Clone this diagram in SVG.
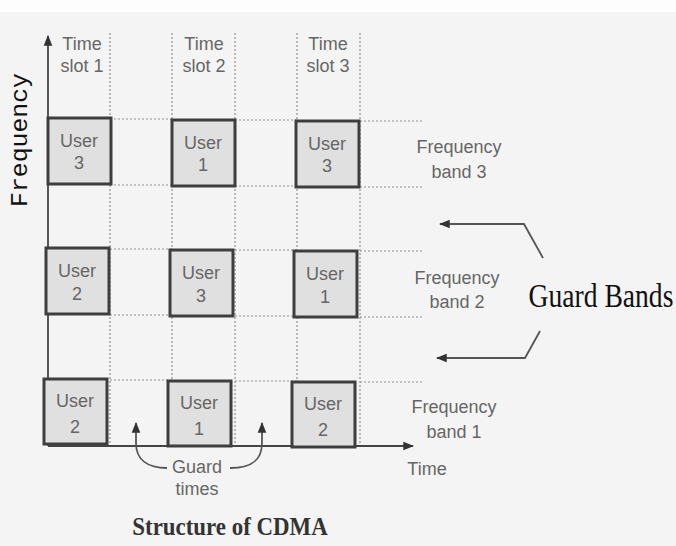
<svg xmlns="http://www.w3.org/2000/svg" width="676" height="546" viewBox="0 0 676 546">
<style>
.t{font-family:"Liberation Sans",Arial,sans-serif;font-size:18px;fill:#666;text-anchor:middle}
.box{fill:#e0e0e0;stroke:#3e3e3e;stroke-width:3}
.dot{stroke:#909090;stroke-width:1.2;stroke-dasharray:2 2;fill:none}
.ax{stroke:#444;stroke-width:1.8;fill:none}
.ln{stroke:#555;stroke-width:1.8;fill:none}
</style>
<defs>
<marker id="ah" viewBox="0 0 10 10" refX="9" refY="5" markerWidth="6" markerHeight="6" orient="auto-start-reverse">
<path d="M0,1 L10,5 L0,9 z" fill="#333"/>
</marker>
</defs>
<rect width="676" height="546" fill="#f4f4f4"/>
<rect width="676" height="12" fill="#fdfdfd"/>

<g id="grid">
<path class="dot" d="M110,33 V446 M172,33 V446 M235,33 V446 M297,33 V446 M360,33 V446"/>
<path class="dot" d="M110,119 H172 M235,120 H297 M360,121 H424 M110,185 H172 M235,186 H297 M360,187 H424 M110,249 H172 M235,250 H297 M360,251 H424 M110,315 H172 M235,316 H297 M360,317 H424 M110,380 H172 M235,381 H297 M360,382 H424"/>
</g>

<g id="axes">
<path class="ax" d="M48,446 V36" marker-end="url(#ah)"/>
<path class="ax" d="M48,446 H413" marker-end="url(#ah)"/>
</g>

<g id="r1c1"><rect class="box" x="48" y="118" width="63" height="66"/><text class="t" x="79" y="147">User</text><text class="t" x="79" y="169">3</text></g>
<g id="r1c2"><rect class="box" x="172" y="120" width="63" height="66"/><text class="t" x="203" y="149">User</text><text class="t" x="203" y="171">1</text></g>
<g id="r1c3"><rect class="box" x="296" y="121" width="63" height="66"/><text class="t" x="327" y="150">User</text><text class="t" x="327" y="172">3</text></g>
<g id="r2c1"><rect class="box" x="46" y="248" width="63" height="66"/><text class="t" x="77" y="277">User</text><text class="t" x="77" y="300">2</text></g>
<g id="r2c2"><rect class="box" x="170" y="250" width="63" height="66"/><text class="t" x="201" y="279">User</text><text class="t" x="201" y="302">3</text></g>
<g id="r2c3"><rect class="box" x="294" y="251" width="63" height="66"/><text class="t" x="325" y="280">User</text><text class="t" x="325" y="303">1</text></g>
<g id="r3c1"><rect class="box" x="44" y="379" width="63" height="65"/><text class="t" x="75" y="407">User</text><text class="t" x="75" y="433">2</text></g>
<g id="r3c2"><rect class="box" x="168" y="381" width="63" height="65"/><text class="t" x="199" y="409">User</text><text class="t" x="199" y="435">1</text></g>
<g id="r3c3"><rect class="box" x="292" y="382" width="63" height="65"/><text class="t" x="323" y="410">User</text><text class="t" x="323" y="436">2</text></g>

<g id="labels">
<text class="t" x="82" y="50">Time</text><text class="t" x="82" y="72">slot 1</text>
<text class="t" x="204" y="50">Time</text><text class="t" x="204" y="72">slot 2</text>
<text class="t" x="328" y="50">Time</text><text class="t" x="328" y="72">slot 3</text>
<text class="t" x="459" y="153">Frequency</text><text class="t" x="459" y="178">band 3</text>
<text class="t" x="457" y="284">Frequency</text><text class="t" x="457" y="308">band 2</text>
<text class="t" x="454" y="413">Frequency</text><text class="t" x="454" y="438">band 1</text>
<text class="t" x="427" y="475">Time</text>
<text class="t" x="197" y="473">Guard</text><text class="t" x="197" y="495">times</text>
<text transform="translate(601,307) scale(1,1.2)" style="font-family:'Liberation Serif',serif;font-size:27.6px;fill:#111;text-anchor:middle">Guard Bands</text>
<text transform="translate(230,535) scale(1,1.12)" style="font-family:'Liberation Serif',serif;font-size:22.9px;font-weight:bold;fill:#333;text-anchor:middle">Structure of CDMA</text>
<text transform="translate(27,140) rotate(-90)" style="font-family:'Liberation Mono',monospace;font-size:24.8px;fill:#111;text-anchor:middle">Frequency</text>
</g>

<g id="connectors">
<path class="ln" d="M543,258 L524,224 H440" marker-end="url(#ah)"/>
<path class="ln" d="M540,331 L525,358 H437" marker-end="url(#ah)"/>
<path class="ln" d="M167,468 C148,468 136,460 136,443 V423" marker-end="url(#ah)"/>
<path class="ln" d="M230,468 C252,468 262,460 262,443 V423" marker-end="url(#ah)"/>
</g>
</svg>
